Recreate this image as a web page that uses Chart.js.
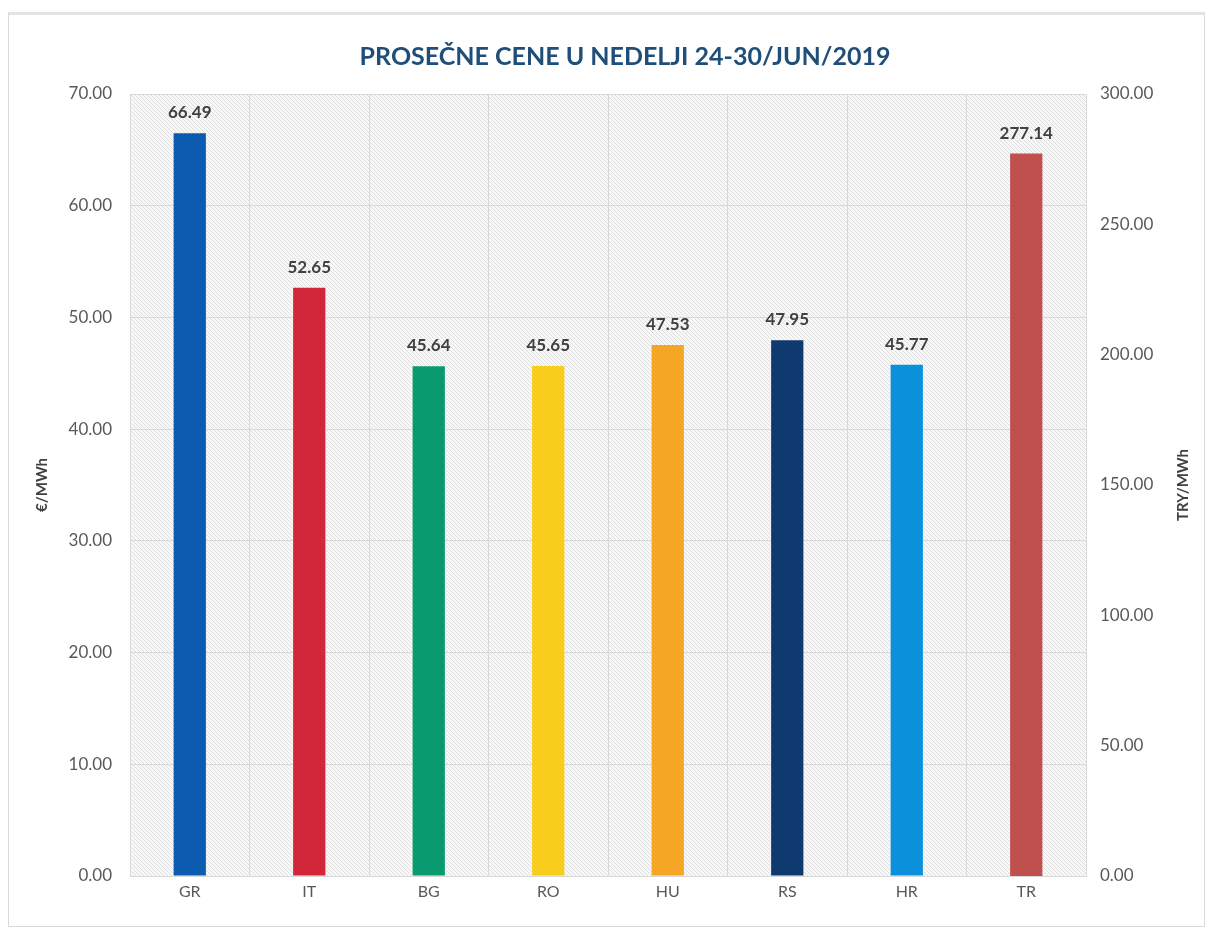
<!DOCTYPE html>
<html>
<head>
<meta charset="utf-8">
<script src="https://cdn.jsdelivr.net/npm/chart.js@4.4.1/dist/chart.umd.min.js"></script>
<style>
    html, body { margin: 0; padding: 0; background: #fff; }
    #wrap { position: relative; width: 1210px; height: 933px; }
    #frame {
        position: absolute; left: 8px; top: 12px; width: 1195px; height: 911px;
        border: 1px solid #d9d9d9; border-top: 3px solid #e4e4e4;
    }
    canvas { position: absolute; left: 0; top: 0; }
</style>
</head>
<body>
<div id="wrap">
    <div id="frame"></div>
    <canvas id="chart" width="1210" height="933"></canvas>
</div>
<script>
// Podaci
const countries = ['GR', 'IT', 'BG', 'RO', 'HU', 'RS', 'HR', 'TR'];
const eurPrices = [66.49, 52.65, 45.64, 45.65, 47.53, 47.95, 45.77, null];
const tryPrices = [null, null, null, null, null, null, null, 277.14];
const barColors = ['#0b5bb1', '#d2273a', '#0a9a6f', '#f9cd1b', '#f5a625', '#0e3a70', '#0b91dc', '#c0504d'];
const chartTitle = 'PROSEČNE CENE U NEDELJI 24-30/JUN/2019';
const leftAxisTitle = '€/MWh';
const rightAxisTitle = 'TRY/MWh';

const FONT = 'Lato, "Open Sans", sans-serif';

// šrafura za pozadinu
function makeHatch() {
    const n = 4;
    const c = document.createElement('canvas');
    c.width = n; c.height = n;
    const cx = c.getContext('2d');
    const img = cx.createImageData(n, n);
    for (let y = 0; y < n; y++) {
        for (let x = 0; x < n; x++) {
            const i = (y * n + x) * 4;
            const on = ((x - y) % n + n) % n === 0;
            const v = on ? 222 : 248;
            img.data[i] = v; img.data[i + 1] = v; img.data[i + 2] = v; img.data[i + 3] = 255;
        }
    }
    cx.putImageData(img, 0, 0);
    return cx;
}
const hatchCtx = makeHatch();

const hatchBg = {
    id: 'hatchBg',
    beforeDraw(chart) {
        const { ctx, chartArea: a } = chart;
        ctx.save();
        ctx.fillStyle = ctx.createPattern(hatchCtx.canvas, 'repeat');
        ctx.fillRect(a.left, a.top, a.right - a.left, a.bottom - a.top);
        ctx.restore();
    }
};

// vrednosti iznad stubova
const barLabels = {
    id: 'barLabels',
    afterDatasetsDraw(chart) {
        const { ctx } = chart;
        ctx.save();
        ctx.font = 'bold 17px ' + FONT;
        ctx.fillStyle = '#404040';
        ctx.textAlign = 'center';
        ctx.textBaseline = 'bottom';
        chart.data.datasets.forEach((ds, di) => {
            const meta = chart.getDatasetMeta(di);
            meta.data.forEach((bar, i) => {
                const v = ds.data[i];
                if (v === null || v === undefined) return;
                ctx.fillText(v.toFixed(2), bar.x, bar.y - 12);
            });
        });
        ctx.restore();
    }
};

// naslov grafika i naslov desne ose (čita se odozdo nagore)
const titles = {
    id: 'titles',
    afterDraw(chart) {
        const { ctx, chartArea: a } = chart;
        ctx.save();
        ctx.font = 'bold 25px ' + FONT;
        ctx.fillStyle = '#1f4e79';
        ctx.textAlign = 'center';
        ctx.textBaseline = 'middle';
        ctx.fillText(chartTitle, 625, 57);

        ctx.translate(1183, (a.top + a.bottom) / 2);
        ctx.rotate(-Math.PI / 2);
        ctx.font = 'bold 15px ' + FONT;
        ctx.fillStyle = '#404040';
        ctx.fillText(rightAxisTitle, 0, 0);
        ctx.restore();
    }
};

new Chart(document.getElementById('chart'), {
    type: 'bar',
    data: {
        labels: countries,
        datasets: [
            {
                data: eurPrices,
                yAxisID: 'y',
                backgroundColor: barColors,
                grouped: false,
                categoryPercentage: 1,
                barPercentage: 0.27
            },
            {
                data: tryPrices,
                yAxisID: 'y1',
                backgroundColor: barColors,
                grouped: false,
                categoryPercentage: 1,
                barPercentage: 0.27
            }
        ]
    },
    options: {
        responsive: false,
        animation: false,
        layout: { padding: { top: 94, left: 0, right: 0, bottom: 0 } },
        plugins: {
            legend: { display: false },
            tooltip: { enabled: false },
            title: { display: false }
        },
        scales: {
            x: {
                grid: { color: '#d9d9d9', offset: true, drawTicks: false },
                border: { color: '#d9d9d9' },
                ticks: { color: '#595959', font: { family: FONT, size: 16 }, padding: 6 },
                afterFit(s) { s.height = 57; }
            },
            y: {
                position: 'left',
                min: 0, max: 70,
                grid: { color: '#d9d9d9', drawTicks: false },
                border: { color: '#d9d9d9' },
                ticks: {
                    stepSize: 10, padding: 18, color: '#595959',
                    font: { family: FONT, size: 17 },
                    callback: v => v.toFixed(2)
                },
                title: {
                    display: true, text: leftAxisTitle, color: '#404040',
                    font: { family: FONT, size: 15, weight: 'bold' },
                    padding: { top: 33, bottom: 0 }
                },
                afterFit(s) { s.width = 130; }
            },
            y1: {
                position: 'right',
                min: 0, max: 300,
                grid: { display: false, drawTicks: false },
                border: { color: '#d9d9d9' },
                ticks: {
                    stepSize: 50, padding: 14, color: '#595959',
                    font: { family: FONT, size: 17 },
                    callback: v => v.toFixed(2)
                },
                afterFit(s) { s.width = 124; }
            }
        }
    },
    plugins: [hatchBg, barLabels, titles]
});
</script>
</body>
</html>
